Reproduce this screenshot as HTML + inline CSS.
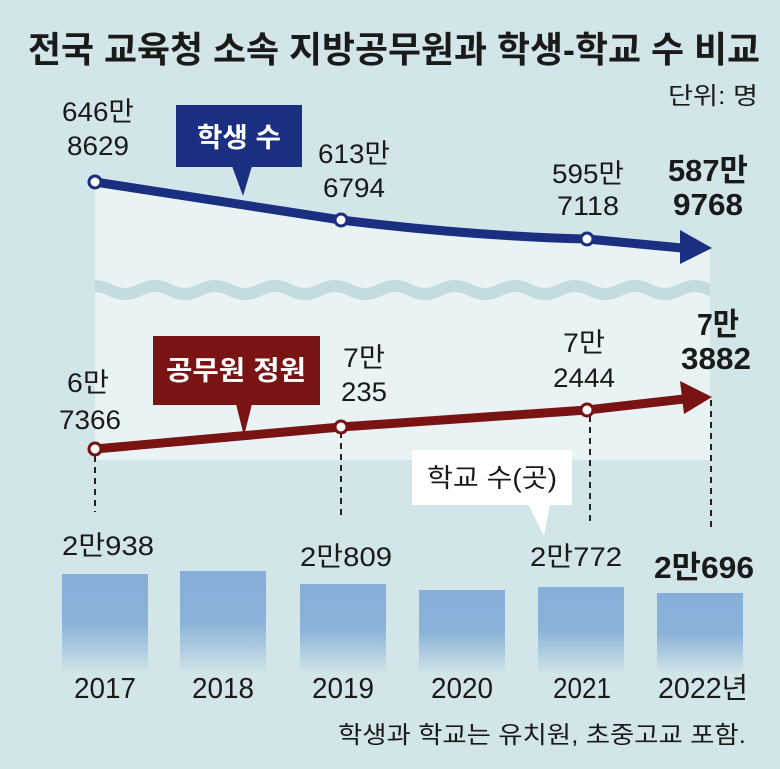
<!DOCTYPE html>
<html><head><meta charset="utf-8"><style>
html,body{margin:0;padding:0;background:#d2e5e8}
svg{display:block}
text{font-family:"Liberation Sans","Noto Sans CJK KR",sans-serif;fill:#1a1a1a}
</style></head><body>
<svg width="780" height="769" viewBox="0 0 780 769" xmlns="http://www.w3.org/2000/svg">
<defs>
<linearGradient id="bar" x1="0" y1="0" x2="0" y2="1">
<stop offset="0" stop-color="#86aed8"/><stop offset="0.5" stop-color="#8ab3d9"/><stop offset="1" stop-color="#d2e5e8"/>
</linearGradient>
<clipPath id="pc"><rect x="95" y="0" width="615" height="769"/></clipPath>
</defs>
<rect width="780" height="769" fill="#d2e5e8"/>
<polygon points="95,182 341,220 587,239 710,250 710,460 95,460" fill="#e9f3f4"/>
<g clip-path="url(#pc)">
<path d="M80,290 q15,-8 30,0 t30,0 t30,0 t30,0 t30,0 t30,0 t30,0 t30,0 t30,0 t30,0 t30,0 t30,0 t30,0 t30,0 t30,0 t30,0 t30,0 t30,0 t30,0 t30,0 t30,0 t30,0" stroke="#c3dce0" stroke-width="12" fill="none"/>
</g>

<text x="28" y="62" font-size="36" font-weight="bold" textLength="732" lengthAdjust="spacingAndGlyphs">전국 교육청 소속 지방공무원과 학생-학교 수 비교</text>
<text x="668" y="104" font-size="24" textLength="90" lengthAdjust="spacingAndGlyphs">단위: 명</text>

<path d="M95,182 L341,220 Q470,236 587,239 L682,248" stroke="#1a2f80" stroke-width="9" fill="none"/>
<polygon points="680,230 712,248 680,264" fill="#1a2f80"/>
<circle cx="95" cy="182" r="6" fill="#fff" stroke="#1a2f80" stroke-width="3"/>
<circle cx="341" cy="220" r="6" fill="#fff" stroke="#1a2f80" stroke-width="3"/>
<circle cx="587" cy="239" r="6" fill="#fff" stroke="#1a2f80" stroke-width="3"/>
<rect x="176" y="105" width="126" height="62" fill="#1a2f80"/>
<polygon points="232,166 252,166 243,196" fill="#1a2f80"/>
<text x="239" y="147" font-size="27" font-weight="bold" text-anchor="middle" style="fill:#fff" textLength="84" lengthAdjust="spacingAndGlyphs">학생 수</text>

<path d="M95,449 L341,427 L587,410 L684,399" stroke="#7a1414" stroke-width="9" fill="none"/>
<polygon points="680,381 712,397 684,414" fill="#7a1414"/>
<rect x="153" y="336" width="167" height="69" fill="#7a1414"/>
<polygon points="236,404 252,404 244,436" fill="#7a1414"/>
<text x="236" y="380" font-size="27" font-weight="bold" text-anchor="middle" style="fill:#fff" textLength="140" lengthAdjust="spacingAndGlyphs">공무원 정원</text>

<g stroke="#222" stroke-width="2" stroke-dasharray="6,5">
<line x1="95" y1="456" x2="95" y2="512"/>
<line x1="341" y1="432" x2="341" y2="520"/>
<line x1="590" y1="416" x2="590" y2="525"/>
<line x1="711" y1="400" x2="711" y2="530"/>
</g>
<circle cx="95" cy="449" r="6" fill="#fff" stroke="#7a1414" stroke-width="3"/>
<circle cx="341" cy="427" r="6" fill="#fff" stroke="#7a1414" stroke-width="3"/>
<circle cx="587" cy="410" r="6" fill="#fff" stroke="#7a1414" stroke-width="3"/>

<rect x="412" y="450" width="160" height="55" fill="#fff"/>
<polygon points="528,504 550,504 544,536" fill="#fff"/>
<text x="492" y="487" font-size="26" text-anchor="middle" textLength="130" lengthAdjust="spacingAndGlyphs">학교 수(곳)</text>

<g font-size="27">
<text x="98" y="121" text-anchor="middle" textLength="72" lengthAdjust="spacingAndGlyphs">646만</text>
<text x="98" y="155" text-anchor="middle" textLength="62" lengthAdjust="spacingAndGlyphs">8629</text>
<text x="354" y="163" text-anchor="middle" textLength="72" lengthAdjust="spacingAndGlyphs">613만</text>
<text x="354" y="197" text-anchor="middle" textLength="62" lengthAdjust="spacingAndGlyphs">6794</text>
<text x="588" y="183" text-anchor="middle" textLength="72" lengthAdjust="spacingAndGlyphs">595만</text>
<text x="588" y="215" text-anchor="middle" textLength="62" lengthAdjust="spacingAndGlyphs">7118</text>
<text x="88" y="392" text-anchor="middle" textLength="42" lengthAdjust="spacingAndGlyphs">6만</text>
<text x="90" y="429" text-anchor="middle" textLength="62" lengthAdjust="spacingAndGlyphs">7366</text>
<text x="364" y="367" text-anchor="middle" textLength="42" lengthAdjust="spacingAndGlyphs">7만</text>
<text x="364" y="401" text-anchor="middle" textLength="46" lengthAdjust="spacingAndGlyphs">235</text>
<text x="584" y="352" text-anchor="middle" textLength="42" lengthAdjust="spacingAndGlyphs">7만</text>
<text x="584" y="387" text-anchor="middle" textLength="62" lengthAdjust="spacingAndGlyphs">2444</text>
<text x="108" y="555" text-anchor="middle" textLength="92" lengthAdjust="spacingAndGlyphs">2만938</text>
<text x="346" y="566" text-anchor="middle" textLength="92" lengthAdjust="spacingAndGlyphs">2만809</text>
<text x="576" y="566" text-anchor="middle" textLength="92" lengthAdjust="spacingAndGlyphs">2만772</text>
</g>
<g font-size="31" font-weight="bold">
<text x="708" y="181" text-anchor="middle" textLength="80" lengthAdjust="spacingAndGlyphs">587만</text>
<text x="708" y="215" text-anchor="middle" textLength="70" lengthAdjust="spacingAndGlyphs">9768</text>
<text x="718" y="335" text-anchor="middle" textLength="42" lengthAdjust="spacingAndGlyphs">7만</text>
<text x="716" y="369" text-anchor="middle" textLength="70" lengthAdjust="spacingAndGlyphs">3882</text>
<text x="704" y="578" text-anchor="middle" textLength="100" lengthAdjust="spacingAndGlyphs">2만696</text>
</g>

<rect x="62" y="574" width="86" height="100" fill="url(#bar)"/>
<rect x="180" y="571" width="86" height="103" fill="url(#bar)"/>
<rect x="300" y="584" width="86" height="90" fill="url(#bar)"/>
<rect x="419" y="590" width="86" height="84" fill="url(#bar)"/>
<rect x="538" y="587" width="86" height="87" fill="url(#bar)"/>
<rect x="657" y="593" width="86" height="81" fill="url(#bar)"/>

<g font-size="29">
<text x="105" y="698" text-anchor="middle" textLength="62" lengthAdjust="spacingAndGlyphs">2017</text>
<text x="223" y="698" text-anchor="middle" textLength="62" lengthAdjust="spacingAndGlyphs">2018</text>
<text x="343" y="698" text-anchor="middle" textLength="62" lengthAdjust="spacingAndGlyphs">2019</text>
<text x="462" y="698" text-anchor="middle" textLength="62" lengthAdjust="spacingAndGlyphs">2020</text>
<text x="582" y="698" text-anchor="middle" textLength="58" lengthAdjust="spacingAndGlyphs">2021</text>
<text x="703" y="698" text-anchor="middle" textLength="90" lengthAdjust="spacingAndGlyphs">2022년</text>
</g>
<text x="338" y="743" font-size="24" textLength="408" lengthAdjust="spacingAndGlyphs">학생과 학교는 유치원, 초중고교 포함.</text>
</svg>
</body></html>
